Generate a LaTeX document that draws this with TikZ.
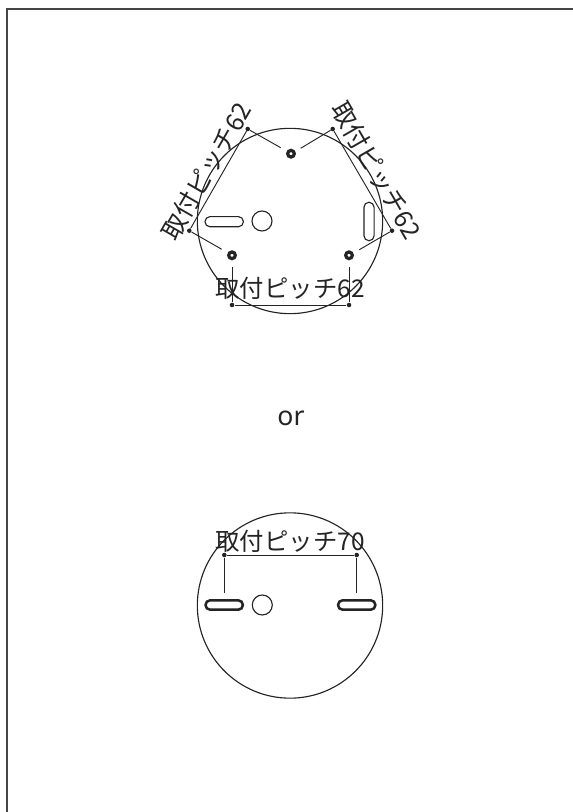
\documentclass[tikz,border=0pt]{standalone}
\usepackage{fontspec}
\setmainfont{Noto Sans}
\newfontfamily\cjk{Noto Sans CJK JP}
\usetikzlibrary{positioning}
\definecolor{dg}{gray}{0.14}
\tikzset{
    hole/.style =   {circle,
                    fill=white,
                    draw=dg,
                    line width=2.4pt,
                    inner sep=0pt,
                    minimum size=5pt},
    pin/.style =    {circle,
                    fill=dg,
                    draw=none,
                    inner sep=0pt,
                    minimum size=3.4pt},
    disc/.style =   {circle,
                    draw=dg,
                    line width=0.85pt,
                    inner sep=0pt},
    plate/.style =  {disc,
                    minimum size=139pt},
    bore/.style =   {disc,
                    minimum size=15pt},
    slot/.style =   {rectangle,
                    rounded corners=3.7pt,
                    draw=dg,
                    line width=0.85pt,
                    inner sep=0pt,
                    minimum width=28.8pt,
                    minimum height=7.6pt},
    boldslot/.style = {slot,
                    line width=1.9pt,
                    rounded corners=3.4pt,
                    minimum width=28pt,
                    minimum height=7pt},
    pitch/.style =  {text=dg,
                    inner sep=0pt,
                    font=\cjk\fontsize{18.3pt}{20pt}\selectfont},
    tilted/.style = {pitch,
                    font=\cjk\fontsize{18.8pt}{20pt}\selectfont},
    dim/.style =    {draw=dg,
                    line width=0.7pt},
    x=0.75pt,
    y=-0.75pt}
\begin{document}
\begin{tikzpicture}
    \useasboundingbox (0,0) rectangle (573,812);
    \draw [draw=dg!85,line width=1.2pt] (7,812) -- (7,9) -- (573,9);

    % upper plate
    \node[plate]  (P1) at (290,221)           {};
    \node[bore]   (B1) at (262,221)           {};
    \node[slot]   (S1) at (224.2,221.7)       {};
    \node[slot,rotate=90]  (S2) at (369,221.5) {};
    \node[hole]   (H1) at (291,153.7)         {};
    \node[hole]   (H2) at (232,255.3)         {};
    \node[hole]   (H3) at (349,255.3)         {};

    \coordinate (e1) at (280.7,147.7);
    \coordinate (e2) at (300.7,148.3);
    \coordinate (e3) at (221.7,249.3);
    \coordinate (e4) at (359.3,249.7);
    \coordinate (e5) at (232,266.7);
    \coordinate (e6) at (349,266.7);

    \node[pin]  (a1) at (247.7,129)   {};
    \node[pin]  (a2) at (189.3,230.7) {};
    \node[pin]  (b1) at (332.7,129)   {};
    \node[pin]  (b2) at (392,230.7)   {};
    \node[pin]  (c1) at (232,305)     {};
    \node[pin]  (c2) at (349,305)     {};

    \path [dim]  (e1) edge (a1)
                 (e3) edge (a2)
                 (a1) edge (a2)
                 (e2) edge (b1)
                 (e4) edge (b2)
                 (b1) edge (b2)
                 (e5) edge (c1)
                 (e6) edge (c2)
                 (c1) edge (c2);

    \node[tilted,rotate=60]   (T1) at (206.5,171)   {取付ピッチ62};
    \node[tilted,rotate=-60]  (T2) at (376.5,170.5) {取付ピッチ62};
    \node[pitch]              (T3) at (290,288.5)   {取付ピッチ62};

    \node[text=dg,font=\fontsize{20pt}{22pt}\selectfont] (or) at (291,418) {or};

    % lower plate
    \node[plate]     (P2) at (290,605.5)     {};
    \node[bore]      (B2) at (262.3,605)     {};
    \node[boldslot]  (S3) at (224.2,605)     {};
    \node[boldslot]  (S4) at (356.7,605)     {};

    \coordinate (e7) at (224.3,592.7);
    \coordinate (e8) at (356.7,592.7);
    \node[pin]  (d1) at (224.3,555) {};
    \node[pin]  (d2) at (356.7,555) {};

    \path [dim]  (e7) edge (d1)
                 (e8) edge (d2)
                 (d1) edge (d2);

    \node[pitch]  (T4) at (290,541.5) {取付ピッチ70};
\end{tikzpicture}
\end{document}
